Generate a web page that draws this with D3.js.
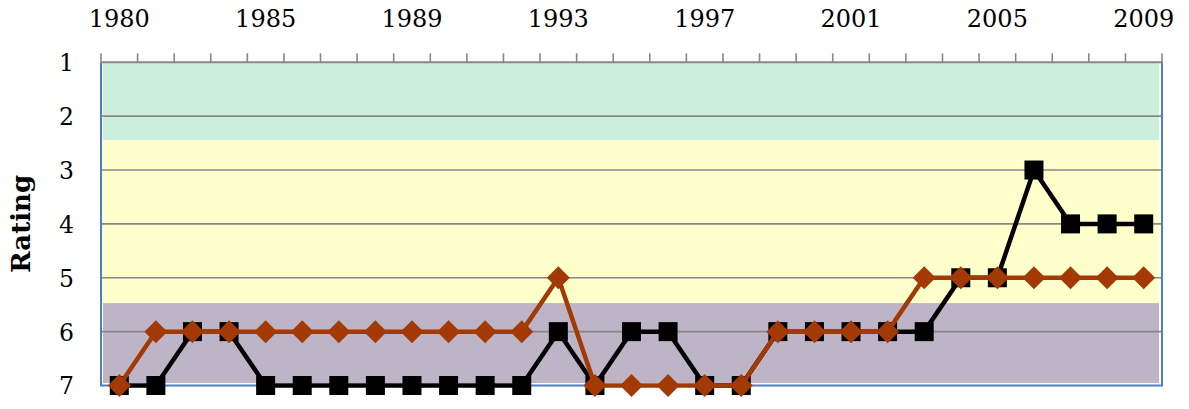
<!DOCTYPE html>
<html><head><meta charset="utf-8">
<script src="https://cdn.jsdelivr.net/npm/d3@7"></script>
<style>html,body{margin:0;padding:0;background:#fff;overflow:hidden}</style>
</head><body>
<svg id="c" width="1189" height="409"></svg>
<script>
const years = [1980,1981,1982,1983,1985,1986,1987,1988,1989,1990,1991,1992,1993,1994,1995,1996,1997,1998,1999,2000,2001,2002,2003,2004,2005,2006,2007,2008,2009];
const seriesBlack = [7,7,6,6,7,7,7,7,7,7,7,7,6,7,6,6,7,7,6,6,6,6,6,5,5,3,4,4,4];
const seriesBrown = [7,6,6,6,6,6,6,6,6,6,6,6,5,7,7,7,7,7,6,6,6,6,5,5,5,5,5,5,5];
const ratingTicks = [1,2,3,4,5,6,7];
const bands = [{from:1,to:2.45,color:"#ccefdc"},{from:2.45,to:5.47,color:"#ffffcc"},{from:5.47,to:7,color:"#bdb4c8"}];
const yTitle = "Rating";

const L=101,R=1162,T=62.3,B=385.5;
const svg=d3.select("#c");
const x=d3.scaleBand().domain(years).range([L,R]);
const y=d3.scaleLinear().domain([1,7]).range([T,B]);
const font='"DejaVu Serif", serif';

// bands
svg.append("g").selectAll("rect").data(bands).join("rect")
  .attr("x",L+2).attr("width",R-L-5)
  .attr("y",d=>y(d.from)).attr("height",d=>Math.min(y(d.to),B-2.5)-y(d.from))
  .attr("fill",d=>d.color);

// gridlines
svg.append("g").selectAll("line").data(ratingTicks.slice(1,6)).join("line")
  .attr("x1",L).attr("x2",R).attr("y1",d=>y(d)).attr("y2",d=>y(d))
  .attr("stroke","#878787").attr("stroke-width",1.6);

// border (left, bottom, right)
svg.append("path")
  .attr("d",`M${L},${T}V${B}H${R}V${T}`)
  .attr("fill","none").attr("stroke","#4f7fbd").attr("stroke-width",2);

// top axis
const xa=d3.axisTop(x).tickSize(0).tickFormat((d,i)=>i%4===0?d:"");
const gx=svg.append("g").attr("transform",`translate(0,${T})`).call(xa);
gx.select(".domain").remove();
gx.selectAll("text").attr("font-family",font).attr("font-size",24).attr("fill","#000").attr("dy",0).attr("y",-35);
// tick marks at category boundaries
const bounds=years.map(d=>x(d)).concat([R]);
svg.append("g").selectAll("line").data(bounds).join("line")
  .attr("x1",d=>d).attr("x2",d=>d).attr("y1",T-9).attr("y2",T)
  .attr("stroke","#878787").attr("stroke-width",1.6);
svg.append("line").attr("x1",L).attr("x2",R+1).attr("y1",T).attr("y2",T).attr("stroke","#878787").attr("stroke-width",2);

// left axis labels
const ya=d3.axisLeft(y).tickValues(ratingTicks).tickSize(0).tickFormat(d3.format("d"));
const gy=svg.append("g").attr("transform",`translate(${L-27},0)`).call(ya);
gy.select(".domain").remove();
gy.selectAll("text").attr("font-family",font).attr("font-size",23.5).attr("fill","#000").attr("x",0).attr("dy","0.36em");

svg.append("text").attr("transform",`translate(30,${(T+B)/2}) rotate(-90)`)
  .attr("text-anchor","middle").attr("font-family",font).attr("font-weight","bold")
  .attr("font-size",26).text(yTitle);

const cx=(d,i)=>x(years[i])+x.bandwidth()/2;
const line=d3.line().x((d,i)=>cx(d,i)).y(d=>y(d));

// black series
svg.append("path").datum(seriesBlack).attr("d",line).attr("fill","none").attr("stroke","#000").attr("stroke-width",4.5).attr("stroke-linejoin","miter");
const s=19;
svg.append("g").selectAll("rect").data(seriesBlack).join("rect")
  .attr("x",(d,i)=>cx(d,i)-s/2).attr("y",d=>y(d)-s/2).attr("width",s).attr("height",s).attr("fill","#000");

// brown series
const brown="#a33a06";
svg.append("path").datum(seriesBrown).attr("d",line).attr("fill","none").attr("stroke",brown).attr("stroke-width",4.5);
const h=11.5;
svg.append("g").selectAll("path").data(seriesBrown).join("path")
  .attr("d",(d,i)=>{const X=cx(d,i),Y=y(d);return `M${X},${Y-h}L${X+h},${Y}L${X},${Y+h}L${X-h},${Y}Z`;})
  .attr("fill",brown);
</script>
</body></html>
